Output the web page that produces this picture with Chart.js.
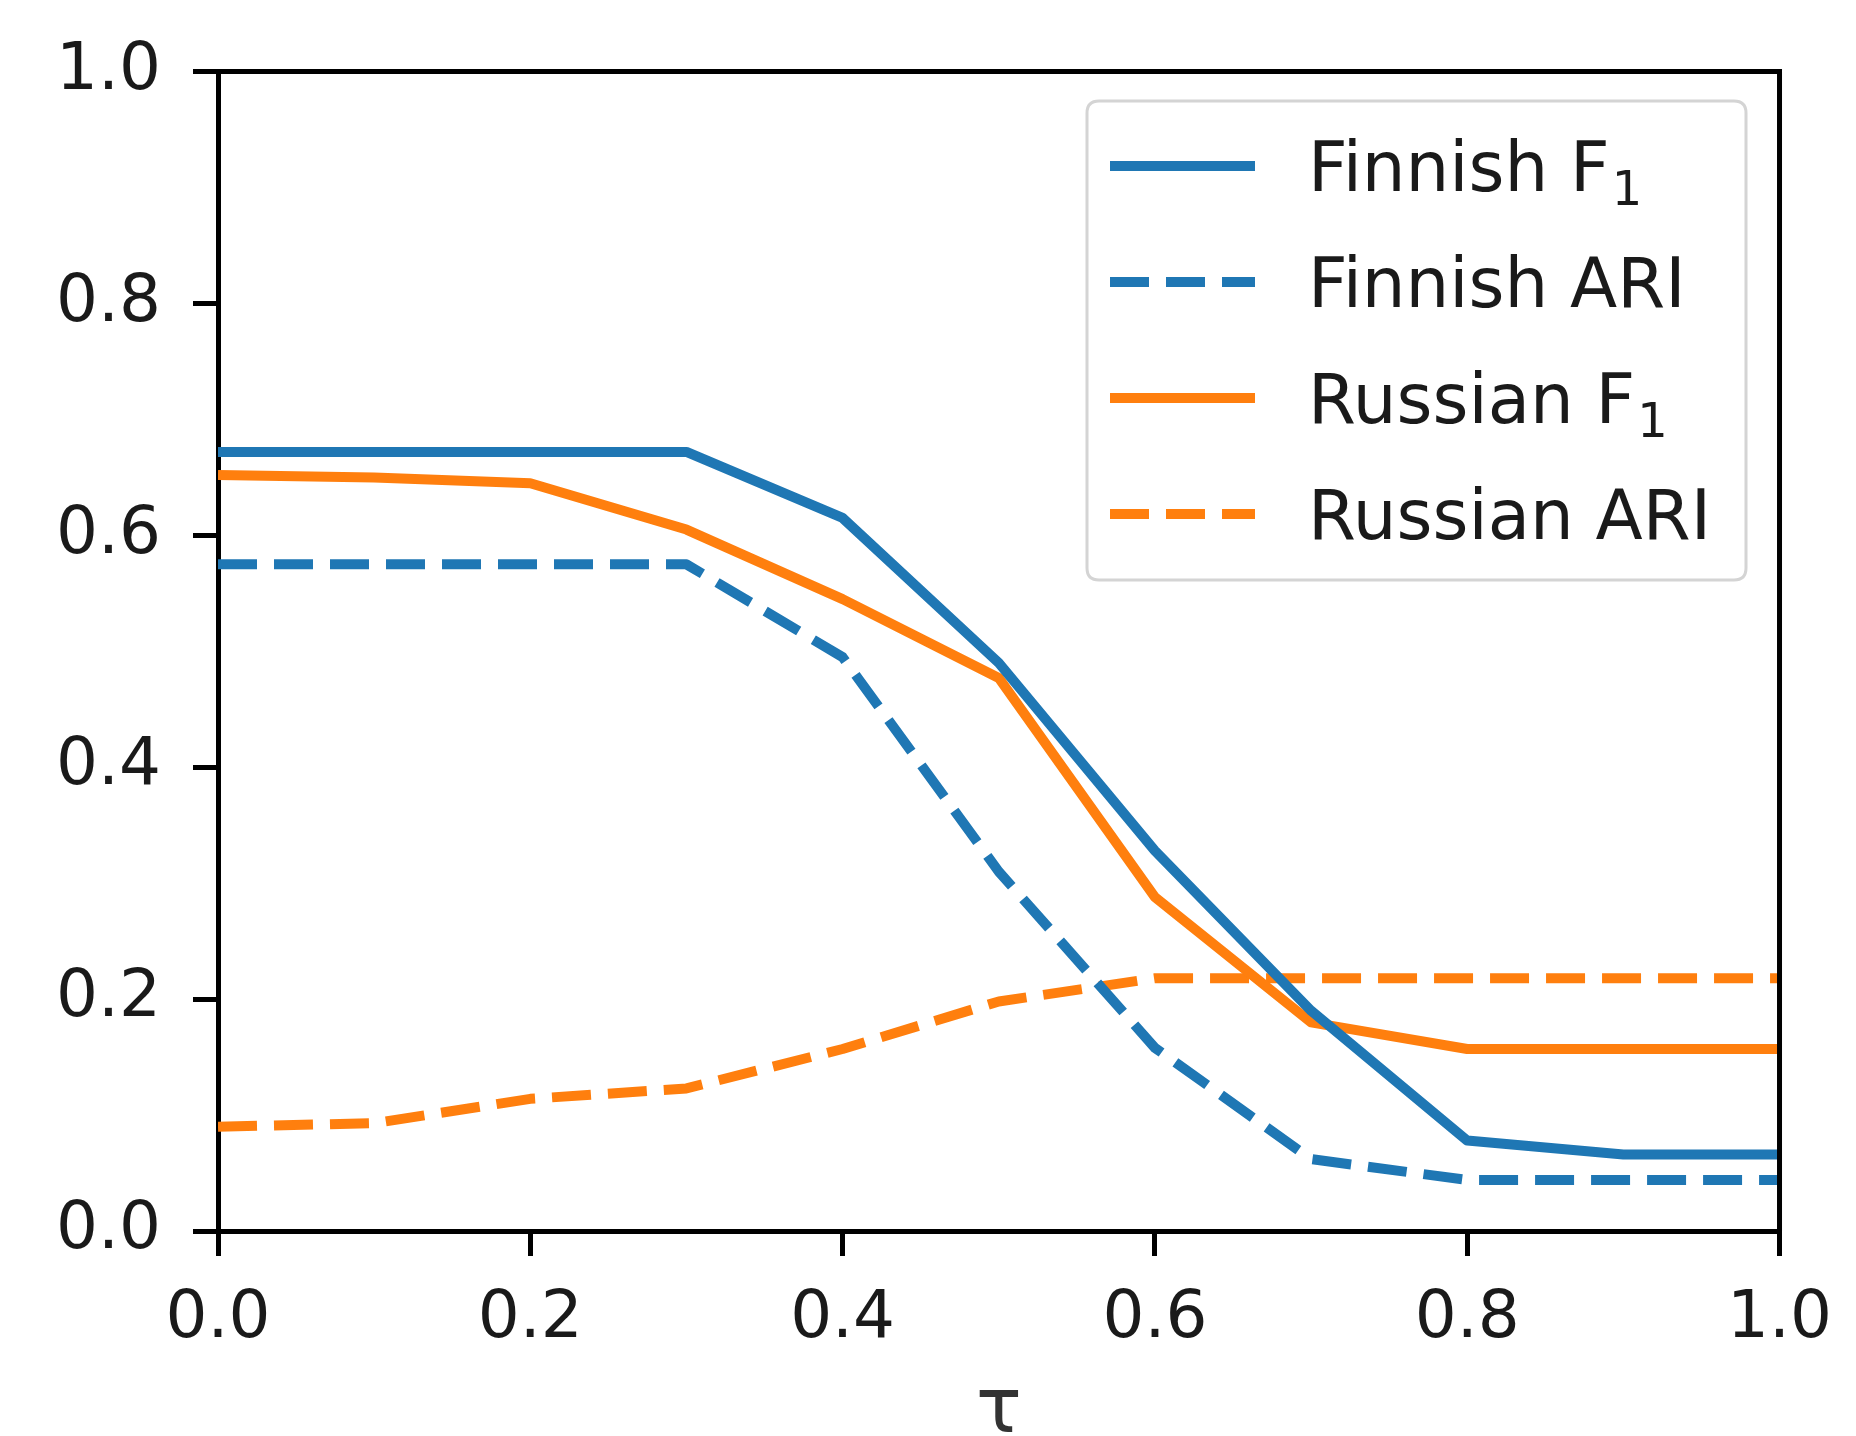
<!DOCTYPE html>
<html>
<head>
<meta charset="utf-8">
<script src="https://cdn.jsdelivr.net/npm/chart.js@4.4.1/dist/chart.umd.min.js"></script>
<style>
  html, body { margin: 0; padding: 0; background: #ffffff; }
  #wrap { width: 1856px; height: 1436px; }
</style>
</head>
<body>
<div id="wrap"><canvas id="c" width="1856" height="1436"></canvas></div>
<script>
// ---- data ----
const tau = [0.0, 0.1, 0.2, 0.3, 0.4, 0.5, 0.6, 0.7, 0.8, 0.9, 1.0];
const finnishF1  = [0.672, 0.672, 0.672, 0.672, 0.615, 0.490, 0.328, 0.190, 0.078, 0.066, 0.066];
const finnishARI = [0.575, 0.575, 0.575, 0.575, 0.495, 0.310, 0.158, 0.062, 0.044, 0.044, 0.044];
const russianF1  = [0.652, 0.650, 0.645, 0.605, 0.545, 0.477, 0.288, 0.180, 0.157, 0.157, 0.157];
const russianARI = [0.090, 0.093, 0.114, 0.123, 0.157, 0.198, 0.218, 0.218, 0.218, 0.218, 0.218];
const seriesLabels = ['Finnish F\u2081', 'Finnish ARI', 'Russian F\u2081', 'Russian ARI'];
const xTickLabels = ['0.0', '0.2', '0.4', '0.6', '0.8', '1.0'];
const yTickLabels = ['0.0', '0.2', '0.4', '0.6', '0.8', '1.0'];
const xTitle = '\u03c4';

// ---- styles ----
const BLUE = '#1f77b4';
const ORANGE = '#ff7f0e';
const DASH = [39, 17];
const FONT = "'DejaVu Sans', sans-serif";
const TXT = '#1a1a1a';

function pts(arr) { return tau.map((t, i) => ({ x: t, y: arr[i] })); }

const seriesValues = [finnishF1, finnishARI, russianF1, russianARI];
const seriesColors = [BLUE, BLUE, ORANGE, ORANGE];
const seriesDashed = [false, true, false, true];

const datasets = seriesValues.map((vals, i) => ({
  label: seriesLabels[i],
  data: pts(vals),
  borderColor: seriesColors[i],
  backgroundColor: seriesColors[i],
  borderWidth: 10,
  borderDash: seriesDashed[i] ? DASH : [],
  borderCapStyle: 'butt',
  borderJoinStyle: 'round',
  pointRadius: 0,
  tension: 0,
  fill: false
}));

const SUBS = { '\u2080': '0', '\u2081': '1', '\u2082': '2' };

const frameAndLegend = {
  id: 'frameAndLegend',
  afterDraw(chart) {
    const ctx = chart.ctx;
    const a = chart.chartArea;
    ctx.save();
    // top and right spines
    ctx.strokeStyle = '#000';
    ctx.lineWidth = 5;
    ctx.beginPath();
    ctx.moveTo(a.left, a.top);
    ctx.lineTo(a.right, a.top);
    ctx.lineTo(a.right, a.bottom);
    ctx.stroke();

    // legend box
    const bx = 1087, by = 101, bw = 659, bh = 479, r = 12;
    ctx.beginPath();
    ctx.moveTo(bx + r, by);
    ctx.lineTo(bx + bw - r, by);
    ctx.quadraticCurveTo(bx + bw, by, bx + bw, by + r);
    ctx.lineTo(bx + bw, by + bh - r);
    ctx.quadraticCurveTo(bx + bw, by + bh, bx + bw - r, by + bh);
    ctx.lineTo(bx + r, by + bh);
    ctx.quadraticCurveTo(bx, by + bh, bx, by + bh - r);
    ctx.lineTo(bx, by + r);
    ctx.quadraticCurveTo(bx, by, bx + r, by);
    ctx.closePath();
    ctx.fillStyle = 'rgba(255,255,255,0.8)';
    ctx.fill();
    ctx.strokeStyle = '#d4d4d4';
    ctx.lineWidth = 3;
    ctx.stroke();

    const rowY = [166, 282, 398, 514];
    const fs = 69;
    chart.data.datasets.forEach((ds, i) => {
      const y = rowY[i];
      ctx.strokeStyle = ds.borderColor;
      ctx.lineWidth = ds.borderWidth;
      ctx.lineCap = 'butt';
      ctx.setLineDash(ds.borderDash || []);
      ctx.beginPath();
      ctx.moveTo(1110, y);
      ctx.lineTo(1255, y);
      ctx.stroke();
      ctx.setLineDash([]);
      ctx.fillStyle = TXT;
      ctx.textAlign = 'left';
      ctx.textBaseline = 'alphabetic';
      const base = y + fs * 0.36;
      // draw text, rendering subscript digits smaller and lowered
      let x = 1308;
      let main = '';
      let sub = '';
      for (const ch of ds.label) {
        if (SUBS[ch] !== undefined) sub += SUBS[ch]; else main += ch;
      }
      ctx.font = fs + 'px ' + FONT;
      ctx.fillText(main, x, base);
      x += ctx.measureText(main).width + 2;
      if (sub) {
        ctx.font = Math.round(fs * 0.7) + 'px ' + FONT;
        ctx.fillText(sub, x, base + fs * 0.2);
      }
    });
    ctx.restore();
  }
};

new Chart(document.getElementById('c'), {
  type: 'line',
  data: { datasets },
  options: {
    responsive: false,
    animation: false,
    devicePixelRatio: 1,
    layout: { padding: { top: 67, right: 74, left: 0, bottom: 0 } },
    plugins: { legend: { display: false }, tooltip: { enabled: false } },
    scales: {
      x: {
        type: 'linear',
        min: 0, max: 1,
        afterFit(s) { s.height = 205; },
        ticks: {
          stepSize: 0.2,
          font: { family: FONT, size: 66 },
          color: TXT,
          padding: 24,
          maxRotation: 0,
          callback: (v) => xTickLabels[Math.round(v / 0.2)]
        },
        grid: { display: true, drawOnChartArea: false, drawTicks: true, tickLength: 25, lineWidth: 5, color: '#000' },
        border: { display: true, color: '#000', width: 5 },
        title: { display: true, text: xTitle, font: { family: FONT, size: 76 }, color: '#333', padding: { top: 0, bottom: -22 } }
      },
      y: {
        type: 'linear',
        min: 0, max: 1,
        afterFit(s) { s.width = 218; },
        ticks: {
          stepSize: 0.2,
          font: { family: FONT, size: 66 },
          color: TXT,
          padding: 32,
          callback: (v) => yTickLabels[Math.round(v / 0.2)]
        },
        grid: { display: true, drawOnChartArea: false, drawTicks: true, tickLength: 25, lineWidth: 5, color: '#000' },
        border: { display: true, color: '#000', width: 5 }
      }
    }
  },
  plugins: [frameAndLegend]
});
</script>
</body>
</html>
